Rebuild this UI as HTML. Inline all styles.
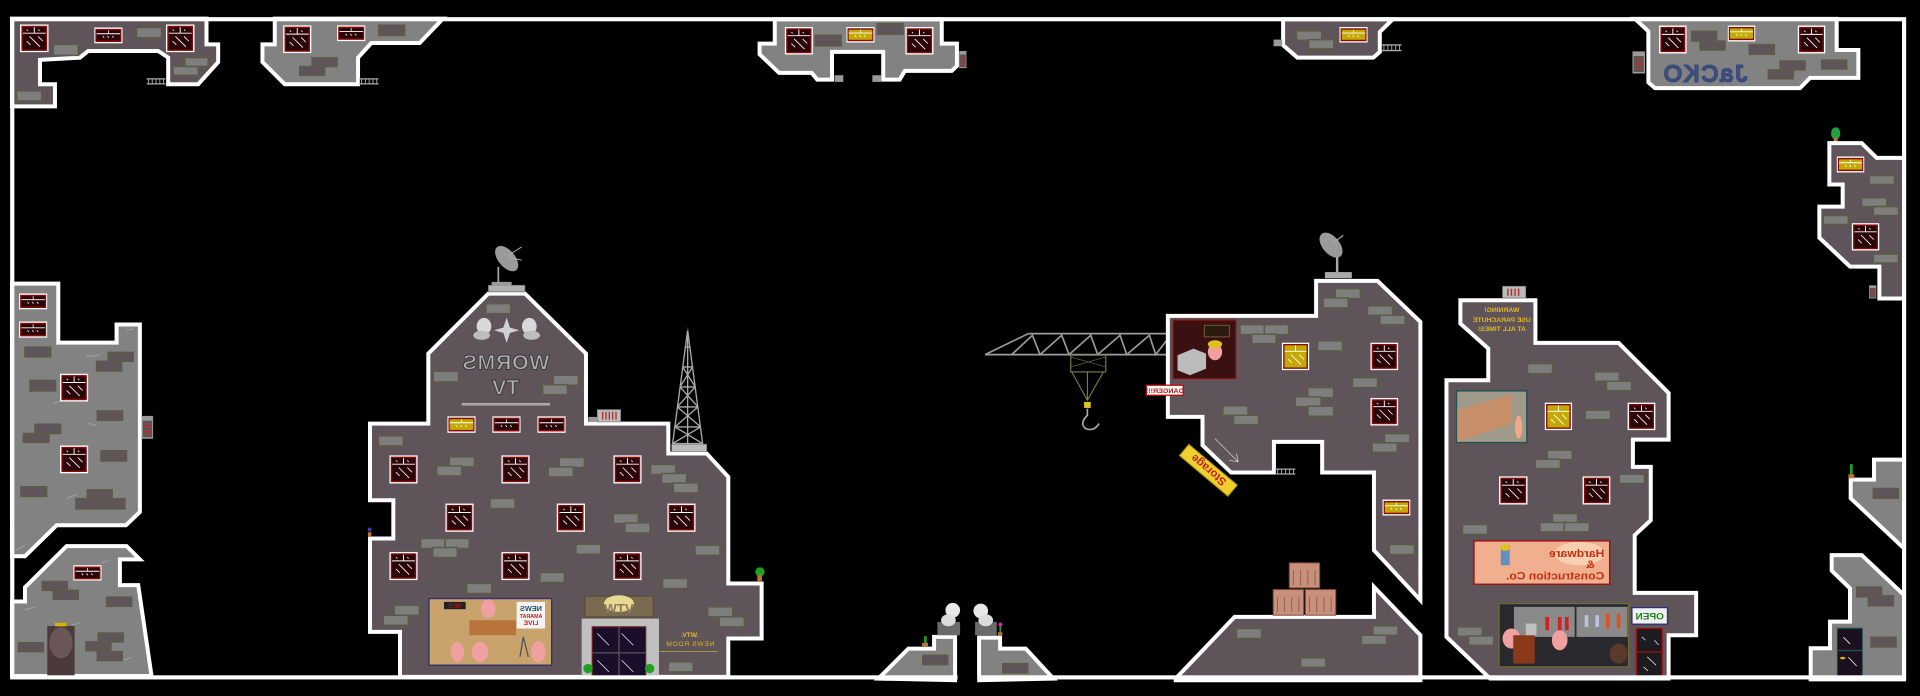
<!DOCTYPE html>
<html><head><meta charset="utf-8"><style>
html,body{margin:0;padding:0;background:#000;}
svg{display:block;}
.p{fill:#5f5459;stroke:#fff;stroke-width:4;vector-effect:non-scaling-stroke;stroke-linejoin:miter}
.g{fill:#828282;stroke:#fff;stroke-width:4;vector-effect:non-scaling-stroke;stroke-linejoin:miter}
.b1{fill:#7e7e7e;stroke:#5c5c46;stroke-width:1.5;vector-effect:non-scaling-stroke}
.b2{fill:#5f5459;stroke:#5c5c46;stroke-width:1.5;vector-effect:non-scaling-stroke}
.ln{stroke:#9c9c9c;stroke-width:1.3;fill:none;vector-effect:non-scaling-stroke}
.tx{font-family:"Liberation Sans",sans-serif;}
</style></head><body>
<svg width="1920" height="696" viewBox="0 0 1568 568" xmlns="http://www.w3.org/2000/svg" xmlns:xlink="http://www.w3.org/1999/xlink">
<defs>
<symbol id="bw" viewBox="0 0 30 30" preserveAspectRatio="none"><rect width="30" height="30" fill="#fff"/><rect x="1.5" y="1.5" width="27" height="27" fill="#8a0a0a"/><rect x="3" y="3" width="24" height="24" fill="#2a0508"/><path d="M3 9.5H27M15 3V9.5" stroke="#fff" stroke-width="1"/><path d="M10 13L21 24M7 18L11 22M19 13L24 18M7 5.5l1.5 1.5M19 5.5l1.5 1.5" stroke="#fff" stroke-width="0.9"/></symbol>
<symbol id="ybw" viewBox="0 0 30 30" preserveAspectRatio="none"><rect width="30" height="30" fill="#fff"/><rect x="1.5" y="1.5" width="27" height="27" fill="#8a0a0a"/><rect x="3" y="3" width="24" height="24" fill="#c4a806"/><path d="M3 9.5H27M15 3V9.5" stroke="#fff" stroke-width="1"/><path d="M10 13L21 24M7 18L11 22M19 13L24 18" stroke="#fff" stroke-width="0.9"/></symbol>
<symbol id="sw" viewBox="0 0 30 14" preserveAspectRatio="none"><rect width="30" height="14" fill="#fff"/><rect x="1.2" y="1.2" width="27.6" height="11.6" fill="#8a0a0a"/><rect x="2.5" y="2.5" width="25" height="9" fill="#2a0508"/><path d="M2.5 5.5H27.5M15 2.5V5.5" stroke="#fff" stroke-width="0.8"/><path d="M9 7.5l1.5 1.5M14 7.5l1.5 1.5M19 7.5l1.5 1.5" stroke="#fff" stroke-width="0.8"/></symbol>
<symbol id="ysw" viewBox="0 0 30 14" preserveAspectRatio="none"><rect width="30" height="14" fill="#fff"/><rect x="1.2" y="1.2" width="27.6" height="11.6" fill="#8a0a0a"/><rect x="2.5" y="2.5" width="25" height="9" fill="#c4a806"/><path d="M2.5 5.5H27.5M15 2.5V5.5" stroke="#fff" stroke-width="0.8"/><path d="M9 7.5l1.5 1.5M14 7.5l1.5 1.5M19 7.5l1.5 1.5" stroke="#fff" stroke-width="0.8"/></symbol>
<symbol id="rail" viewBox="0 0 20 6" preserveAspectRatio="none"><rect width="20" height="6" fill="#000"/><path d="M0 1H20M0 5H20M2 1V5M6 1V5M10 1V5M14 1V5M18 1V5" stroke="#aaa" stroke-width="1"/></symbol>
<symbol id="dev" viewBox="0 0 10 14" preserveAspectRatio="none"><rect width="10" height="14" fill="#9a9a9a"/><rect x="1" y="3" width="8" height="10" fill="#555"/><path d="M2 5H8M2 7H8M2 9H8M2 11H8" stroke="#c03030" stroke-width="0.8"/></symbol>
</defs>
<rect width="1568" height="568" fill="#000"/>

<!-- LEFT (zoom3 coords) -->
<g transform="translate(0,-0.204) scale(0.272,0.362)">
<polygon class="p" points="36,42 620,42 620,100 655,100 655,140 595,190 505,190 505,130 475,115 265,115 240,130 120,135 120,190 165,190 165,240 36,240"/>
<rect class="b1" x="160" y="100" width="75" height="25"/><rect class="b1" x="410" y="62" width="75" height="23"/><rect class="b1" x="555" y="130" width="70" height="20"/><rect class="b1" x="520" y="150" width="75" height="20"/><rect class="b1" x="50" y="205" width="75" height="23"/>
<use href="#bw" x="60" y="55" width="86" height="63"/><use href="#sw" x="283" y="62" width="85" height="36"/><use href="#bw" x="498" y="55" width="86" height="63"/>
<use href="#rail" x="440" y="175" width="57" height="17"/>

<polygon class="g" points="825,42 1330,42 1260,97 1115,97 1075,130 1075,190 855,190 788,140 788,100 825,100"/>
<rect class="b2" x="1137" y="57" width="78" height="23"/><rect class="b2" x="937" y="130" width="75" height="20"/><rect class="b2" x="900" y="150" width="75" height="20"/>
<use href="#bw" x="850" y="57" width="85" height="63"/><use href="#sw" x="1012" y="57" width="85" height="36"/>
<use href="#rail" x="1080" y="175" width="57" height="17"/>

<polygon class="g" points="36,640 175,640 175,773 350,773 350,732 420,732 420,1155 378,1185 170,1185 75,1255 36,1255"/>
<rect class="b2" x="75" y="783" width="77" height="22"/><rect class="b2" x="325" y="795" width="75" height="20"/><rect class="b2" x="290" y="815" width="75" height="22"/><rect class="b2" x="90" y="858" width="77" height="24"/><rect class="b2" x="292" y="927" width="76" height="21"/><rect class="b2" x="105" y="957" width="77" height="21"/><rect class="b2" x="70" y="978" width="77" height="20"/><rect class="b2" x="303" y="1017" width="77" height="23"/><rect class="b2" x="63" y="1098" width="77" height="22"/><rect class="b2" x="262" y="1105" width="75" height="20"/><rect class="b2" x="228" y="1125" width="75" height="23"/><rect class="b2" x="303" y="1125" width="72" height="23"/>
<use href="#sw" x="57" y="662" width="85" height="36"/><use href="#sw" x="57" y="725" width="85" height="37"/><use href="#bw" x="180" y="843" width="85" height="63"/><use href="#bw" x="180" y="1005" width="85" height="63"/>
<use href="#dev" x="425" y="938" width="35" height="52"/>
<path class="ln" d="M260 803h30l10 -5M380 745l20 -3M160 910l20 -5M265 955l25 5M200 1125l30 -10M50 1240l25 -10"/>

<polygon class="g" points="36,1525 36,1357 75,1357 75,1325 200,1232 380,1232 420,1262 360,1262 360,1320 415,1320 455,1525"/>
<rect class="b2" x="127" y="1312" width="75" height="20"/><rect class="b2" x="160" y="1332" width="75" height="20"/><rect class="b2" x="320" y="1347" width="75" height="21"/><rect class="b2" x="55" y="1450" width="75" height="20"/><rect class="b2" x="295" y="1428" width="75" height="20"/><rect class="b2" x="258" y="1448" width="75" height="20"/><rect class="b2" x="292" y="1470" width="75" height="20"/>
<use href="#sw" x="220" y="1275" width="85" height="35"/>
<rect x="142" y="1412" width="82" height="113" fill="#4a3a3c"/><ellipse cx="183" cy="1450" rx="35" ry="35" fill="#6a5656"/><rect x="165" y="1405" width="35" height="8" fill="#d4b400"/>
<path class="ln" d="M75 1375l30 -5M215 1410l25 -5M370 1490l25 -8M305 1270l20 -5"/>
</g>

<!-- WORMS TV building (zoom1 coords) -->
<g transform="translate(294,196) scale(0.2722)">
<polygon class="p" points="385,160 495,160 678,340 678,550 925,550 925,640 1040,640 1105,710 1105,1030 1205,1030 1205,1195 1105,1195 1105,1310 120,1310 120,1175 30,1175 30,895 100,895 100,780 30,780 30,550 205,550 205,340"/>
<g>
<rect class="b1" x="378" y="190" width="74" height="30"/><rect class="b1" x="220" y="393" width="75" height="32"/><rect class="b1" x="580" y="405" width="75" height="30"/><rect class="b1" x="548" y="433" width="74" height="30"/><rect class="b1" x="55" y="587" width="75" height="30"/><rect class="b1" x="268" y="650" width="75" height="30"/><rect class="b1" x="230" y="677" width="75" height="30"/><rect class="b1" x="598" y="652" width="75" height="30"/><rect class="b1" x="565" y="680" width="75" height="30"/><rect class="b1" x="872" y="673" width="75" height="30"/><rect class="b1" x="905" y="700" width="75" height="30"/><rect class="b1" x="940" y="728" width="75" height="30"/><rect class="b1" x="390" y="775" width="75" height="30"/><rect class="b1" x="760" y="820" width="75" height="30"/><rect class="b1" x="795" y="848" width="75" height="30"/><rect class="b1" x="182" y="895" width="73" height="30"/><rect class="b1" x="255" y="895" width="73" height="30"/><rect class="b1" x="218" y="922" width="74" height="30"/><rect class="b1" x="648" y="912" width="74" height="30"/><rect class="b1" x="1005" y="915" width="75" height="30"/><rect class="b1" x="540" y="997" width="73" height="30"/><rect class="b1" x="320" y="1030" width="75" height="30"/><rect class="b1" x="908" y="1015" width="75" height="30"/><rect class="b1" x="103" y="1095" width="75" height="30"/><rect class="b1" x="70" y="1125" width="75" height="30"/><rect class="b1" x="1043" y="1100" width="75" height="30"/><rect class="b1" x="1078" y="1130" width="75" height="30"/><rect class="b1" x="925" y="1265" width="75" height="30"/>
</g>
<use href="#ysw" x="262" y="528" width="85" height="50"/><use href="#sw" x="397" y="528" width="85" height="50"/><use href="#sw" x="532" y="528" width="85" height="50"/>
<use href="#bw" x="88" y="645" width="85" height="85"/><use href="#bw" x="424" y="645" width="85" height="85"/><use href="#bw" x="760" y="645" width="85" height="85"/>
<use href="#bw" x="256" y="790" width="85" height="85"/><use href="#bw" x="590" y="790" width="85" height="85"/><use href="#bw" x="922" y="790" width="85" height="85"/>
<use href="#bw" x="88" y="935" width="85" height="85"/><use href="#bw" x="424" y="935" width="85" height="85"/><use href="#bw" x="760" y="935" width="85" height="85"/>
<!-- heads & star -->
<ellipse cx="372" cy="258" rx="22" ry="25" fill="#d8d8d8"/><ellipse cx="365" cy="285" rx="25" ry="14" fill="#bdbdbd"/>
<ellipse cx="508" cy="258" rx="22" ry="25" fill="#d8d8d8"/><ellipse cx="515" cy="285" rx="25" ry="14" fill="#bdbdbd"/>
<polygon points="440,232 450,262 478,270 450,278 440,308 430,278 402,270 430,262" fill="#d0d0d8"/>
<g transform="translate(874,0) scale(-1,1)"><text class="tx" x="437" y="388" font-size="64" font-weight="bold" text-anchor="middle" fill="#b4b4b4" stroke="#3a3a3a" stroke-width="3" letter-spacing="2">WORMS</text>
<text class="tx" x="437" y="463" font-size="64" font-weight="bold" text-anchor="middle" fill="#b4b4b4" stroke="#3a3a3a" stroke-width="3">TV</text></g>
<rect x="305" y="488" width="265" height="8" fill="#a8a8a8"/>
<!-- dish -->
<rect x="385" y="135" width="110" height="20" fill="#b0b0b0" stroke="#666" stroke-width="2"/><rect x="395" y="125" width="60" height="12" fill="#999"/>
<path d="M415 128V80" stroke="#aaa" stroke-width="5"/>
<ellipse cx="440" cy="55" rx="25" ry="45" transform="rotate(-40 440 55)" fill="#9a9a9a"/><path d="M445 45l40 -25M445 50l40 10" stroke="#aaa" stroke-width="3"/>
<!-- roof device -->
<rect x="685" y="530" width="30" height="15" fill="#999"/><rect x="712" y="508" width="70" height="37" fill="#bbb" stroke="#777" stroke-width="2"/><path d="M728 515v23M738 515v23M748 515v23M758 515v23M768 515v23" stroke="#b03030" stroke-width="4"/>
<!-- tower -->
<g stroke="#aaa" stroke-width="4" fill="none">
<polygon points="983,270 1028,610 938,610"/>
<path d="M983 270V610M976 320H990M968 380H998M960 440H1006M952 500H1014M945 560H1022M968 380L1006 440M998 380L960 440M960 440L1014 500M1006 440L952 500M952 500L1022 560M1014 500L945 560M945 560L1028 610M1022 560L938 610"/>
</g>
<path d="M983 262v10" stroke="#c00" stroke-width="4"/>
<rect x="935" y="612" width="105" height="22" fill="#bbb" stroke="#777" stroke-width="2"/>
<!-- picture -->
<rect x="207" y="1075" width="368" height="200" fill="#c9a36c" stroke="#303070" stroke-width="4"/>
<rect x="252" y="1085" width="65" height="22" fill="#222"/><text class="tx" x="285" y="1103" font-size="18" fill="#e02020" text-anchor="middle">0:00</text>
<rect x="328" y="1140" width="140" height="45" fill="#b8743a"/>
<ellipse cx="385" cy="1105" rx="22" ry="28" fill="#f0a0a0"/>
<rect x="470" y="1085" width="85" height="80" fill="#f4f4f4"/>
<g transform="translate(1025,0) scale(-1,1)"><text class="tx" x="512" y="1112" font-size="22" font-weight="bold" fill="#205060" text-anchor="middle">NEWS</text><text class="tx" x="512" y="1133" font-size="16" font-weight="bold" fill="#c02020" text-anchor="middle">AMARAT</text><text class="tx" x="512" y="1155" font-size="20" font-weight="bold" fill="#c02020" text-anchor="middle">LIVE</text></g>
<ellipse cx="292" cy="1235" rx="20" ry="30" fill="#f0a0a0"/><ellipse cx="360" cy="1235" rx="25" ry="30" fill="#f0a0a0"/><ellipse cx="535" cy="1235" rx="22" ry="32" fill="#f0a0a0"/>
<path d="M490 1190l-10 60M490 1190l15 60" stroke="#555" stroke-width="4"/>
<!-- door -->
<rect x="675" y="1068" width="205" height="62" fill="#7a6a50" stroke="#5a4a30" stroke-width="3"/><ellipse cx="777" cy="1090" rx="45" ry="25" fill="#e8d890"/>
<text class="tx" x="777" y="1118" font-size="40" font-weight="bold" fill="#8a7a60" text-anchor="middle">WTV</text>
<rect x="665" y="1135" width="232" height="175" fill="#c0c0c0"/>
<rect x="697" y="1160" width="160" height="150" fill="#1a0e2a" stroke="#6a2020" stroke-width="4"/>
<path d="M777 1160V1310M697 1238H857" stroke="#555" stroke-width="4"/>
<path d="M712 1180l35 35M785 1180l35 35M712 1260l35 35M785 1260l35 35" stroke="#fff" stroke-width="2"/>
<circle cx="684" cy="1285" r="14" fill="#20a020"/><circle cx="869" cy="1285" r="14" fill="#20a020"/>
<g transform="translate(1980,0) scale(-1,1)"><text class="tx" x="990" y="1190" font-size="20" font-weight="bold" fill="#e0b820" text-anchor="middle">.WTV.</text><text class="tx" x="990" y="1218" font-size="20" fill="#e0b820" text-anchor="middle" letter-spacing="2">NEWS ROOM</text></g>
<path d="M900 1234H1073" stroke="#e0b820" stroke-width="3" stroke-dasharray="3 2"/>
<circle cx="1200" cy="995" r="14" fill="#20a020"/><rect x="1192" y="1005" width="14" height="20" fill="#c07030"/>
<circle cx="29" cy="868" r="6" fill="#4040a0"/><rect x="24" y="876" width="10" height="14" fill="#c07030"/>
</g>

<!-- crane area (zoom6 coords) -->
<g transform="translate(702.4,179.7) scale(0.2722)">
<g stroke="#9c9c9c" stroke-width="5" fill="none">
<path d="M375 403H920M505 340H920M375 403L505 340"/>
<path d="M455 403L517 345L540 403L605 345L627 403L692 345L713 403L780 345L800 403L868 345L887 403L920 360"/>
</g>
<rect x="632" y="405" width="105" height="50" fill="none" stroke="#6a6a4a" stroke-width="4"/>
<path d="M632 410L737 440M737 410L632 440" stroke="#6a6a4a" stroke-width="2"/>
<path d="M635 455L682 540L730 455M682 455V540" stroke="#8a8a3a" stroke-width="3" fill="none"/>
<rect x="672" y="545" width="20" height="18" fill="#d8c820"/>
<path d="M682 565v20q-25 25 -5 40q25 10 40 -15" stroke="#aaa" stroke-width="5" fill="none"/>
<polygon class="g" points="55,1375 145,1285 222,1285 222,1250 285,1250 285,1380"/>
<rect class="b2" x="188" y="1305" width="75" height="28"/>
<polygon class="g" points="357,1380 357,1252 420,1252 420,1285 497,1285 580,1375"/>
<rect class="b2" x="428" y="1330" width="75" height="28"/>
<rect x="232" y="1205" width="68" height="40" fill="#6a6a6a"/><ellipse cx="278" cy="1170" rx="22" ry="22" fill="#e8e8e8"/><ellipse cx="265" cy="1200" rx="22" ry="18" fill="#dcdcdc"/>
<rect x="345" y="1205" width="65" height="40" fill="#6a6a6a"/><ellipse cx="362" cy="1172" rx="22" ry="22" fill="#e8e8e8"/><ellipse cx="377" cy="1200" rx="22" ry="18" fill="#dcdcdc"/>
<rect x="192" y="1248" width="8" height="25" fill="#20a020"/><rect x="186" y="1268" width="18" height="10" fill="#c07030"/>
<circle cx="421" cy="1213" r="6" fill="#e020c0"/><rect x="418" y="1218" width="5" height="20" fill="#20a020"/><rect x="414" y="1236" width="13" height="9" fill="#c07030"/>
<!-- storage sign -->
<g transform="rotate(40 1045 750)"><rect x="950" y="728" width="190" height="44" fill="#f0d030" stroke="#a08a10" stroke-width="3"/><text class="tx" x="1045" y="762" font-size="34" font-weight="bold" fill="#c02020" text-anchor="middle" transform="rotate(180 1045 750)">Storage</text></g>
</g>

<!-- crane building + hardware (zoom2 coords) -->
<g transform="translate(931,220.5) scale(0.2917,0.2722)">
<polygon class="p" points="78,137 493,137 493,32 665,32 785,155 785,990 655,840 655,607 510,607 510,515 375,515 375,607 255,607 175,525 175,440 78,440"/>
<polygon class="p" points="100,1225 265,1040 655,1040 655,950 785,1095 785,1230 100,1230"/>
<polygon class="p" points="897,90 1107,90 1107,218 1340,218 1480,368 1480,508 1380,508 1380,590 1430,590 1430,750 1385,795 1385,968 1557,968 1557,1095 1480,1095 1480,1225 980,1225 858,1100 858,330 975,330 975,235 897,160"/>
<g>
<rect class="b1" x="547" y="55" width="70" height="30"/><rect class="b1" x="513" y="83" width="70" height="30"/><rect class="b1" x="637" y="107" width="70" height="28"/><rect class="b1" x="672" y="135" width="70" height="28"/><rect class="b1" x="280" y="163" width="68" height="30"/><rect class="b1" x="348" y="163" width="68" height="30"/><rect class="b1" x="313" y="192" width="68" height="28"/><rect class="b1" x="497" y="212" width="70" height="30"/><rect class="b1" x="595" y="322" width="70" height="30"/><rect class="b1" x="470" y="352" width="72" height="30"/><rect class="b1" x="435" y="380" width="72" height="30"/><rect class="b1" x="470" y="408" width="72" height="30"/><rect class="b1" x="232" y="407" width="70" height="28"/><rect class="b1" x="262" y="435" width="70" height="28"/><rect class="b1" x="685" y="490" width="70" height="28"/><rect class="b1" x="650" y="518" width="70" height="28"/><rect class="b1" x="698" y="823" width="70" height="30"/><rect class="b1" x="270" y="1075" width="70" height="30"/><rect class="b1" x="652" y="1067" width="70" height="28"/><rect class="b1" x="620" y="1095" width="70" height="28"/><rect class="b1" x="450" y="1163" width="70" height="28"/>
<rect class="b1" x="1085" y="280" width="70" height="30"/><rect class="b1" x="1272" y="305" width="70" height="28"/><rect class="b1" x="1306" y="333" width="70" height="28"/><rect class="b1" x="1247" y="420" width="70" height="28"/><rect class="b1" x="1140" y="540" width="70" height="28"/><rect class="b1" x="1107" y="567" width="70" height="28"/><rect class="b1" x="1342" y="612" width="70" height="28"/><rect class="b1" x="1155" y="730" width="70" height="28"/><rect class="b1" x="1120" y="757" width="70" height="28"/><rect class="b1" x="1188" y="757" width="70" height="28"/><rect class="b1" x="903" y="763" width="70" height="30"/><rect class="b1" x="888" y="1070" width="70" height="28"/><rect class="b1" x="920" y="1097" width="70" height="28"/>
</g>
<use href="#ybw" x="397" y="217" width="77" height="83"/><use href="#bw" x="645" y="217" width="78" height="83"/><use href="#bw" x="645" y="383" width="78" height="83"/><use href="#ysw" x="679" y="688" width="78" height="48"/>
<use href="#ybw" x="1133" y="397" width="77" height="83"/><use href="#bw" x="1365" y="397" width="78" height="83"/><use href="#bw" x="1005" y="618" width="80" height="85"/><use href="#bw" x="1239" y="618" width="78" height="85"/>
<!-- crane control picture -->
<rect x="93" y="150" width="175" height="175" fill="#3a1010" stroke="#8a1010" stroke-width="4"/>
<rect x="180" y="165" width="70" height="35" fill="#2a1a10" stroke="#8a7a40" stroke-width="2"/>
<polygon points="105,255 150,235 185,250 185,295 140,315 105,300" fill="#bcbcbc"/>
<ellipse cx="210" cy="245" rx="20" ry="25" fill="#f0a0a0"/><ellipse cx="210" cy="222" rx="20" ry="12" fill="#e0c020"/>
<!-- danger -->
<rect x="18" y="345" width="103" height="30" fill="#fff" stroke="#c01010" stroke-width="4"/>
<g transform="translate(139,0) scale(-1,1)"><text class="tx" x="69.5" y="368" font-size="20" font-weight="bold" fill="#c01010" text-anchor="middle">DANGER!!!</text></g>
<path d="M210 505L275 575M275 575l-25 -5M275 575l-5 -25" stroke="#ddd" stroke-width="2" fill="none"/>
<use href="#rail" x="380" y="593" width="55" height="22"/>
<!-- crates -->
<g fill="#c8907a" stroke="#7a5040" stroke-width="3">
<rect x="418" y="878" width="85" height="75"/><rect x="373" y="958" width="85" height="77"/><rect x="463" y="958" width="85" height="77"/>
</g>
<path d="M430 900v45M450 900v45M470 900v45M490 900v45M385 980v45M405 980v45M425 980v45M445 980v45M475 980v45M495 980v45M515 980v45M535 980v45" stroke="#7a5040" stroke-width="2"/>
<!-- warning -->
<g transform="translate(2025,0) scale(-1,1)"><g class="tx" fill="#e0b820" font-size="19" font-weight="bold" text-anchor="middle"><text x="1012" y="125">WARNING!</text><text x="1012" y="155">USE PARACHUTE</text><text x="1012" y="183">AT ALL TIMES!</text></g></g>
<rect x="1015" y="48" width="65" height="35" fill="#bbb" stroke="#777" stroke-width="2"/><path d="M1030 55v22M1040 55v22M1050 55v22M1060 55v22" stroke="#b03030" stroke-width="4"/>
<!-- crate picture -->
<rect x="886" y="362" width="197" height="155" fill="#a09a8a" stroke="#205050" stroke-width="4"/>
<polygon points="888,420 1040,372 1040,460 888,515" fill="#c8906a"/><ellipse cx="1060" cy="470" rx="10" ry="35" fill="#f0a888"/>
<!-- hardware sign -->
<rect x="935" y="812" width="380" height="130" fill="#f0b090" stroke="#a01010" stroke-width="4"/>
<ellipse cx="1230" cy="850" rx="70" ry="35" fill="#f8d0b0"/>
<g transform="translate(2250,0) scale(-1,1)"><g class="tx" font-weight="bold" fill="#c03010"><text x="950" y="860" font-size="34">Hardware</text><text x="977" y="893" font-size="34">&amp;</text><text x="950" y="928" font-size="34">Construction Co.</text></g></g>
<rect x="1010" y="825" width="25" height="60" fill="#6090c0"/><ellipse cx="1022" cy="832" rx="14" ry="10" fill="#e0c020"/>
<!-- shop picture -->
<rect x="1005" y="1000" width="363" height="190" fill="#2a2a2e" stroke="#6a6a3a" stroke-width="4"/>
<rect x="1047" y="1010" width="170" height="90" fill="#8a8a8a"/><rect x="1222" y="1010" width="143" height="90" fill="#8a8a8a"/>
<path d="M1140 1040v40M1175 1040v40M1195 1040v40" stroke="#d02020" stroke-width="10"/><path d="M1310 1030v45M1340 1030v45" stroke="#e05020" stroke-width="10"/>
<path d="M1250 1035v35M1280 1035v35" stroke="#c0c0e0" stroke-width="10"/>
<ellipse cx="1040" cy="1105" rx="25" ry="30" fill="#f0a0a0"/><rect x="1045" y="1095" width="60" height="85" fill="#8a3a1a"/>
<ellipse cx="1175" cy="1110" rx="22" ry="30" fill="#f0a0a0"/><ellipse cx="1340" cy="1150" rx="25" ry="30" fill="#5a3a2a"/>
<rect x="1080" y="1060" width="30" height="35" fill="#c0c0c0"/>
<!-- open -->
<rect x="1377" y="1012" width="100" height="50" fill="#f0f0f0" stroke="#303070" stroke-width="4"/>
<g transform="translate(2854,0) scale(-1,1)"><text class="tx" x="1427" y="1048" font-size="28" font-weight="bold" fill="#208020" text-anchor="middle">OPEN</text></g>
<rect x="1390" y="1075" width="72" height="145" fill="#1c1c20" stroke="#9a1010" stroke-width="4"/><path d="M1390 1145h72" stroke="#9a1010" stroke-width="4"/>
<path d="M1405 1100l10 10M1440 1110l12 14M1410 1190l12 12M1420 1160l25 25" stroke="#fff" stroke-width="2"/>
</g>
<!-- dish on crane building -->
<g transform="translate(1072,186)">
<rect x="10" y="36" width="22" height="5" fill="#aaa"/><path d="M20 36V24" stroke="#aaa" stroke-width="2"/>
<ellipse cx="15" cy="14" rx="7" ry="12" transform="rotate(-40 15 14)" fill="#9a9a9a"/><path d="M17 12l8 -6" stroke="#aaa" stroke-width="1"/>
</g>

<!-- right side (zoom4 coords) -->
<g transform="translate(1306.7,0) scale(0.2722,0.3625)">
<polygon class="g" points="105,42 710,42 710,112 775,112 775,175 630,175 600,198 165,198 145,185 145,70"/>
<rect class="b2" x="275" y="70" width="75" height="22"/><rect class="b2" x="300" y="92" width="75" height="20"/><rect class="b2" x="448" y="100" width="75" height="22"/><rect class="b2" x="540" y="137" width="75" height="20"/><rect class="b2" x="505" y="157" width="75" height="20"/><rect class="b2" x="665" y="135" width="75" height="20"/>
<use href="#bw" x="177" y="57" width="83" height="63"/><use href="#ysw" x="383" y="57" width="83" height="36"/><use href="#bw" x="593" y="57" width="83" height="63"/>
<g transform="translate(625,0) scale(-1,1)"><text class="tx" x="312" y="183" font-size="70" fill="none" stroke="#3a4a7a" stroke-width="6" text-anchor="middle" transform="scale(1,0.75) translate(0,61)" letter-spacing="6">JaCKO</text></g>
<use href="#dev" x="97" y="115" width="38" height="50"/>

<circle cx="707" cy="300" r="14" fill="#20a040"/><rect x="701" y="310" width="12" height="10" fill="#c07030"/>
<polygon class="p" points="912,355 830,355 785,322 688,322 688,415 728,415 728,465 658,465 658,535 750,600 838,600 838,672 912,672"/>
<rect class="b1" x="808" y="395" width="75" height="20"/><rect class="b1" x="785" y="445" width="75" height="20"/><rect class="b1" x="820" y="465" width="75" height="20"/><rect class="b1" x="670" y="485" width="75" height="20"/><rect class="b1" x="820" y="572" width="75" height="20"/>
<use href="#ysw" x="710" y="352" width="83" height="36"/><use href="#bw" x="755" y="502" width="83" height="62"/>
<use href="#dev" x="807" y="642" width="22" height="30"/>

<polygon class="g" points="912,1035 822,1035 822,1080 752,1080 752,1122 912,1235"/>
<rect class="b2" x="820" y="1100" width="75" height="22"/>
<rect x="750" y="1045" width="8" height="25" fill="#20a020"/><rect x="745" y="1068" width="18" height="9" fill="#c07030"/>

<polygon class="g" points="912,1530 912,1340 785,1250 695,1250 695,1285 750,1325 750,1400 690,1400 690,1460 632,1460 632,1530"/>
<rect class="b2" x="770" y="1322" width="75" height="22"/><rect class="b2" x="805" y="1342" width="75" height="22"/><rect class="b2" x="813" y="1435" width="75" height="22"/>
<rect x="712" y="1415" width="75" height="110" fill="#1c1020" stroke="#205050" stroke-width="3"/><path d="M712 1465h75" stroke="#205050" stroke-width="3"/>
<path d="M730 1435l20 15M745 1480l25 20" stroke="#fff" stroke-width="2"/><ellipse cx="728" cy="1482" rx="8" ry="3" fill="#d4b400"/>
</g>

<!-- top center (zoom5 coords) -->
<g transform="translate(604.4,0) scale(0.3542,0.2722)">
<polygon class="g" points="80,57 465,57 465,130 500,130 500,197 488,212 380,212 368,238 330,238 330,155 212,155 212,238 178,238 165,218 90,218 45,162 45,130 80,130"/>
<rect class="b2" x="173" y="105" width="60" height="32"/><rect class="b2" x="316" y="70" width="60" height="32"/>
<use href="#bw" x="103" y="80" width="65" height="83"/><use href="#ysw" x="245" y="80" width="65" height="47"/><use href="#bw" x="381" y="80" width="65" height="83"/>
<rect x="218" y="225" width="20" height="20" fill="#999"/><rect x="305" y="225" width="20" height="20" fill="#999"/>
<use href="#dev" x="505" y="152" width="17" height="52"/>
<polygon class="p" points="1252,57 1505,57 1475,95 1475,155 1460,172 1285,172 1252,135"/>
<rect class="b1" x="1283" y="92" width="58" height="28"/><rect class="b1" x="1311" y="118" width="58" height="28"/>
<use href="#ysw" x="1382" y="80" width="65" height="47"/>
<rect x="1230" y="118" width="20" height="20" fill="#999"/>
<use href="#rail" x="1480" y="130" width="45" height="25"/>
</g>

<!-- outer border -->
<rect x="10" y="15.5" width="1545" height="537.5" fill="none" stroke="#fff" stroke-width="3.4"/>
<rect x="782" y="551" width="16" height="8" fill="#000"/>
</svg>
</body></html>
